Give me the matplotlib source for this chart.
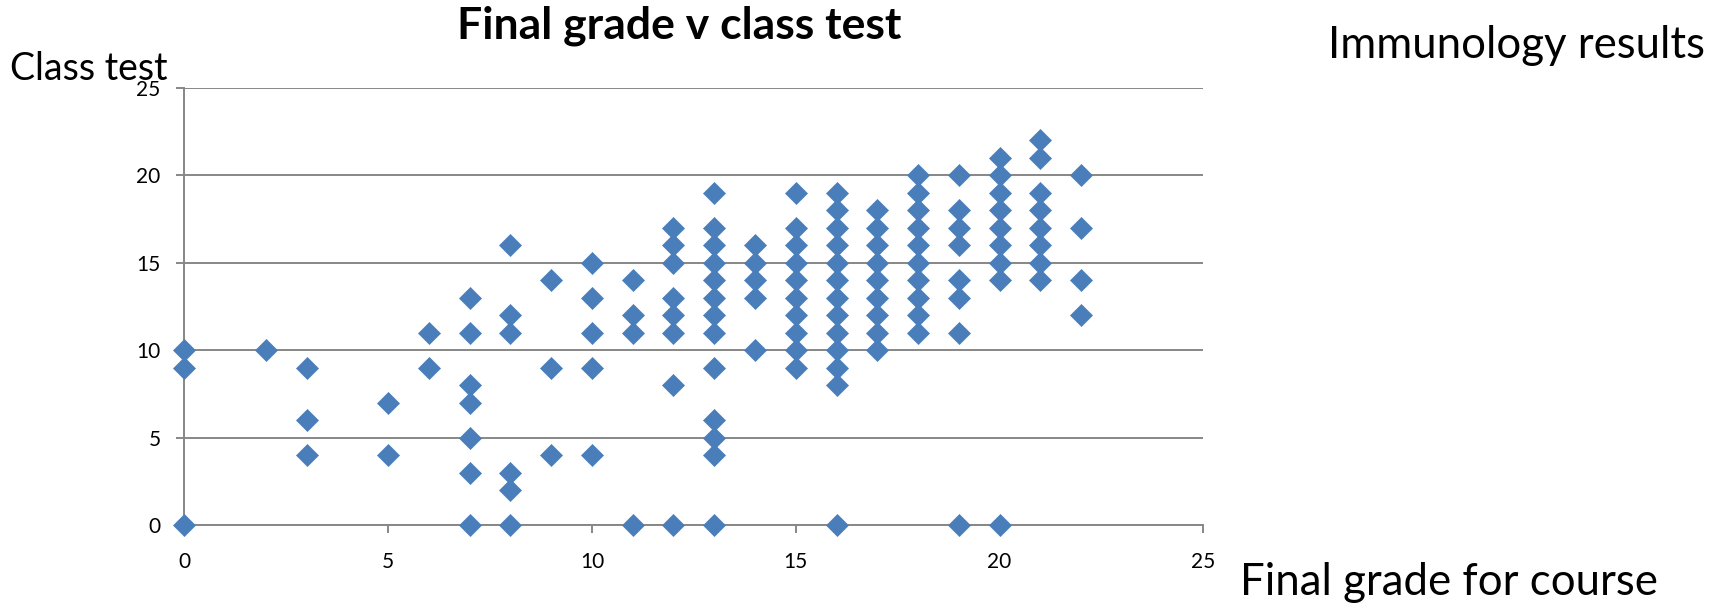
import numpy as np
import matplotlib.pyplot as plt

# final grade for course (x) and class test mark (y), one pair per student
final_grade = ([0] * 3 + [2] + [3] * 3 + [5] * 2 + [6] * 2 + [7] * 7 + [8] * 6
               + [9] * 3 + [10] * 5 + [11] * 4 + [12] * 8 + [13] * 13 + [14] * 5
               + [15] * 10 + [16] * 13 + [17] * 9 + [18] * 10 + [19] * 8
               + [20] * 9 + [21] * 8 + [22] * 4)
class_test = [10, 9, 0,
              10,
              9, 6, 4,
              7, 4,
              11, 9,
              13, 11, 8, 7, 5, 3, 0,
              16, 12, 11, 3, 2, 0,
              14, 9, 4,
              15, 13, 11, 9, 4,
              14, 12, 11, 0,
              17, 16, 15, 13, 12, 11, 8, 0,
              19, 17, 16, 15, 14, 13, 12, 11, 9, 6, 5, 4, 0,
              16, 15, 14, 13, 10,
              19, 17, 16, 15, 14, 13, 12, 11, 10, 9,
              19, 18, 17, 16, 15, 14, 13, 12, 11, 10, 9, 8, 0,
              18, 17, 16, 15, 14, 13, 12, 11, 10,
              20, 19, 18, 17, 16, 15, 14, 13, 12, 11,
              20, 18, 17, 16, 14, 13, 11, 0,
              21, 20, 19, 18, 17, 16, 15, 14, 0,
              22, 21, 19, 18, 17, 16, 15, 14,
              20, 17, 14, 12]

ticks = [0, 5, 10, 15, 20, 25]

plt.rcParams['font.family'] = ['Lato', 'DejaVu Sans']

fig = plt.figure(figsize=(17.29, 6.06), dpi=100)
ax = fig.add_axes([0.1066, 0.1332, 0.696 - 0.1066, 0.8553 - 0.1332])

grid_col = '#878787'
ax.plot(final_grade, class_test, 'D', color='#4A7EBB', markersize=11,
        markeredgewidth=0.5, markeredgecolor='#4A7EBB', clip_on=False, zorder=3)

ax.set_xlim(0, 25)
ax.set_ylim(0, 25)
ax.set_xticks(ticks)
ax.set_yticks(ticks)
ax.yaxis.grid(True, color=grid_col, linewidth=1.4)
ax.set_axisbelow(True)
for s in ['top', 'right']:
    ax.spines[s].set_visible(False)
for s in ['left', 'bottom']:
    ax.spines[s].set_color(grid_col)
    ax.spines[s].set_linewidth(1.4)
ax.tick_params(axis='both', direction='out', length=6, width=1.4,
               color=grid_col, labelsize=15)
ax.tick_params(axis='x', pad=13)
ax.tick_params(axis='y', pad=11)

fig.text(0.393, 0.936, 'Final grade v class test', ha='center',
         va='baseline', fontsize=32, fontweight='bold')
fig.text(0.0058, 0.868, 'Class test', ha='left', va='baseline', fontsize=27)
fig.text(0.768, 0.905, 'Immunology results', ha='left', va='baseline',
         fontsize=31.5)
fig.text(0.717, 0.018, 'Final grade for course', ha='left', va='baseline',
         fontsize=31.5)

plt.savefig('out.png', dpi=100)
